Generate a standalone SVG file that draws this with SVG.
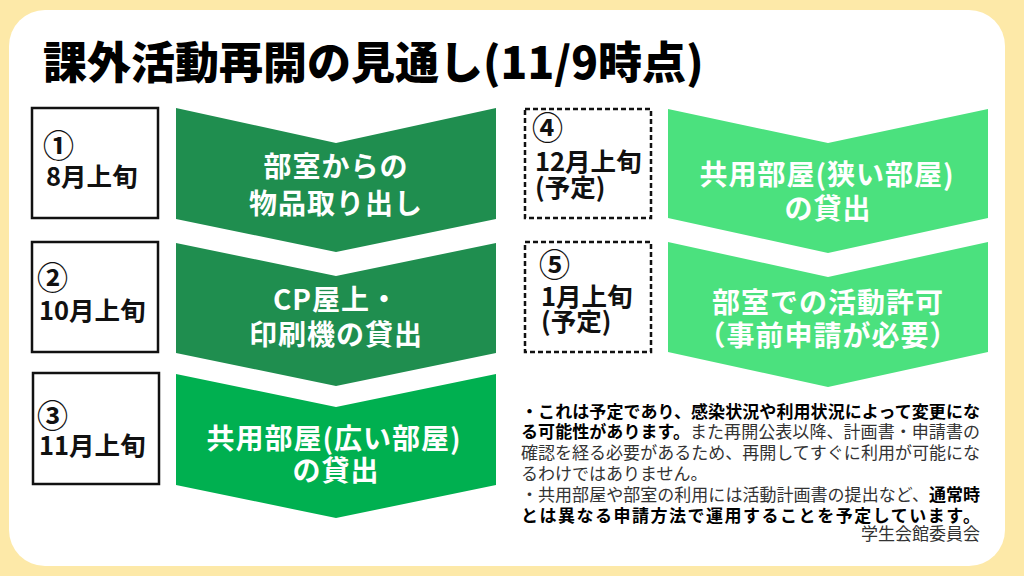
<svg xmlns="http://www.w3.org/2000/svg" width="1024" height="576" viewBox="0 0 1024 576">
<style>
.jp{font-family:"Noto Sans CJK JP","Noto Sans",sans-serif}
.title{font-size:44px;font-weight:900;fill:#000}
.box{fill:#fff;stroke:#111;stroke-width:2.5}
.dbox{fill:#fff;stroke:#111;stroke-width:2.5;stroke-dasharray:5 3}
.lbl{font-size:25.5px;font-weight:700;fill:#111}
.num{font-size:31px;font-weight:700;fill:#111}
.ct{font-size:28px;font-weight:700;fill:#fff;text-anchor:middle;letter-spacing:1px}
.dark{fill:#1F8E4F}
.mid{fill:#00B050}
.light{fill:#4BE17E}
.note{font-size:17px;fill:#333}
.b{font-weight:700;fill:#000}
</style>
<rect x="0" y="0" width="1024" height="576" fill="#FDE9A8"/>
<rect x="9" y="10" width="996" height="556" rx="36" fill="#fff"/>
<text class="jp title" x="43" y="79">課外活動再開の見通し(11/9時点)</text>

<g id="step1">
<rect class="box" x="32" y="108" width="126" height="110"/>
<text class="jp num" x="43" y="157">①</text>
<text class="jp lbl" x="46" y="186">8月上旬</text>
<path class="dark" d="M176,108 L336,143 L496,108 L496,219 L336,252 L176,219 Z"/>
<text class="jp ct" x="336" y="177">部室からの</text>
<text class="jp ct" x="336" y="214">物品取り出し</text>
</g>

<g id="step2">
<rect class="box" x="32" y="242" width="126" height="110"/>
<text class="jp num" x="37" y="289">②</text>
<text class="jp lbl" x="39" y="320">10月上旬</text>
<path class="dark" d="M176,243 L336,276 L496,243 L496,353 L336,386 L176,353 Z"/>
<text class="jp ct" x="336" y="310">CP屋上・</text>
<text class="jp ct" x="336" y="345">印刷機の貸出</text>
</g>

<g id="step3">
<rect class="box" x="33" y="373" width="126" height="111"/>
<text class="jp num" x="37" y="427">③</text>
<text class="jp lbl" x="39" y="455">11月上旬</text>
<path class="mid" d="M176,374 L336,407 L496,374 L496,485 L336,518 L176,485 Z"/>
<text class="jp ct" x="334" y="449">共用部屋(広い部屋)</text>
<text class="jp ct" x="336" y="481">の貸出</text>
</g>

<g id="step4">
<rect class="dbox" x="525" y="109" width="126" height="109"/>
<text class="jp num" x="532" y="139">④</text>
<text class="jp lbl" x="535" y="171">12月上旬</text>
<text class="jp lbl" x="535" y="197">(予定)</text>
<path class="light" d="M668,109 L828,143 L988,109 L988,218 L828,253 L668,218 Z"/>
<text class="jp ct" x="827" y="185">共用部屋(狭い部屋)</text>
<text class="jp ct" x="828" y="219">の貸出</text>
</g>

<g id="step5">
<rect class="dbox" x="525" y="242" width="126" height="110"/>
<text class="jp num" x="539" y="276">⑤</text>
<text class="jp lbl" x="541" y="306">1月上旬</text>
<text class="jp lbl" x="541" y="331">(予定)</text>
<path class="light" d="M668,242 L828,277 L988,242 L988,352 L828,387 L668,352 Z"/>
<text class="jp ct" x="828" y="313">部室での活動許可</text>
<text class="jp ct" x="828" y="346">（事前申請が必要）</text>
</g>

<g id="notes" class="jp note">
<text x="521" y="418" class="b" textLength="459" lengthAdjust="spacing">・これは予定であり、感染状況や利用状況によって変更にな</text>
<text x="521" y="438" textLength="459" lengthAdjust="spacing"><tspan class="b">る可能性があります。</tspan>また再開公表以降、計画書・申請書の</text>
<text x="521" y="459" textLength="459" lengthAdjust="spacing">確認を経る必要があるため、再開してすぐに利用が可能にな</text>
<text x="521" y="480">るわけではありません。</text>
<text x="521" y="501" textLength="459" lengthAdjust="spacing">・共用部屋や部室の利用には活動計画書の提出など、<tspan class="b">通常時</tspan></text>
<text x="521" y="522" class="b" textLength="459" lengthAdjust="spacing">とは異なる申請方法で運用することを予定しています。</text>
<text x="980" y="540" text-anchor="end">学生会館委員会</text>
</g>
<g id="connectors"></g>
</svg>
